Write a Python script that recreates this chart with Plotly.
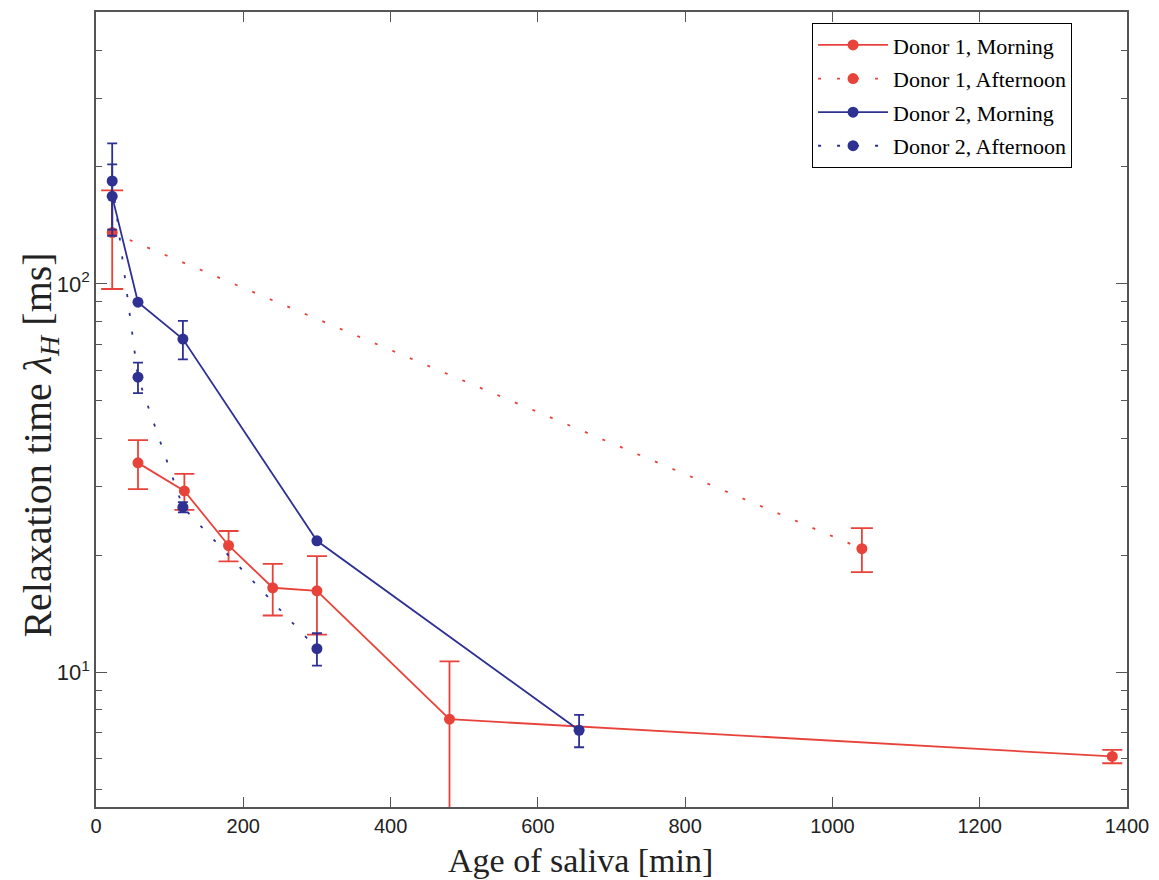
import plotly.graph_objects as go

# Data
d1m_x = [57, 120, 180, 240, 300, 480, 1380]
d1m_y = [34.6, 29.3, 21.2, 16.5, 16.2, 7.57, 6.07]
d1m_e = [5.0, 3.1, 1.9, 2.5, 3.7, 3.1, 0.24]

d1a_x = [22, 1040]
d1a_y = [135.5, 20.8]
d1a_e = [38.5, 2.7]

d2m_x = [22, 57, 118, 300, 656]
d2m_y = [168, 89.7, 72.1, 21.8, 7.09]
d2m_e = [35, 0, 8.2, 0, 0.68]

d2a_x = [22, 57, 118, 300]
d2a_y = [184, 57.5, 26.6, 11.5]
d2a_e = [46, 5.2, 0.8, 1.1]

x_ticks = [0, 200, 400, 600, 800, 1000, 1200, 1400]
y_major = [10, 100]
y_major_text = ["10<sup>1</sup>", "10<sup>2</sup>"]
y_minor = [5, 6, 7, 8, 9, 20, 30, 40, 50, 60, 70, 80, 90, 200, 300, 400, 500]

x_title = "Age of saliva [min]"
y_title = "Relaxation time <i>λ<sub>H</sub></i> [ms]"

RED = "#E8433B"
BLUE = "#2E3192"

fig = go.Figure()

def add(name, xs, ys, es, color, dash, capw):
    fig.add_trace(go.Scatter(
        x=xs, y=ys, name=name, mode="lines+markers", legendgroup=name,
        line=dict(color=color, width=1.8, dash=dash),
        marker=dict(color=color, size=11, symbol="circle"),
        error_y=dict(type="data", array=es, symmetric=True, color=color,
                     thickness=1.8, width=capw),
    ))

add("Donor 1, Morning", d1m_x, d1m_y, d1m_e, RED, "solid", 10)
add("Donor 1, Afternoon", d1a_x, d1a_y, d1a_e, RED, "3px,16px", 11)
add("Donor 2, Morning", d2m_x, d2m_y, d2m_e, BLUE, "solid", 5)
add("Donor 2, Afternoon", d2a_x, d2a_y, d2a_e, BLUE, "3px,16px", 5)

axis_color = "#555555"
fig.update_layout(
    width=1159, height=880,
    margin=dict(l=96, r=32, t=12, b=73),
    paper_bgcolor="white", plot_bgcolor="white",
    showlegend=True,
    legend=dict(
        x=0.9467, y=0.986, xanchor="right", yanchor="top",
        bordercolor="black", borderwidth=1, bgcolor="white",
        font=dict(family="Liberation Serif", size=22, color="black"),
        itemwidth=70, tracegroupgap=2,
    ),
    xaxis=dict(
        range=[0, 1400], tickvals=x_ticks, ticks="inside", ticklen=10,
        tickcolor=axis_color, showline=True, linecolor=axis_color, linewidth=1.5,
        mirror="ticks", showgrid=False, zeroline=False, automargin=False,
        tickfont=dict(family="Liberation Sans", size=20, color="#222"),
    ),
    yaxis=dict(
        type="log", range=[0.653, 2.70], tickmode="array",
        tickvals=y_major, ticktext=y_major_text,
        ticks="inside", ticklen=11, tickcolor=axis_color,
        showline=True, linecolor=axis_color, linewidth=1.5,
        mirror="ticks", showgrid=False, zeroline=False, automargin=False,
        tickfont=dict(family="Liberation Sans", size=22, color="#222"),
        minor=dict(tickmode="array", tickvals=y_minor, ticks="inside",
                   ticklen=6, tickcolor=axis_color, showgrid=False),
    ),
    annotations=[
        dict(text=x_title, xref="paper", yref="paper", x=0.470, y=-0.0672,
             xanchor="center", yanchor="middle", showarrow=False,
             font=dict(family="Liberation Serif", size=34, color="#222")),
        dict(text=y_title, xref="paper", yref="paper", x=-0.054, y=0.455,
             xanchor="center", yanchor="middle", textangle=-90, showarrow=False,
             font=dict(family="Liberation Serif", size=40, color="#222")),
    ],
)

fig.write_html("out.html")
